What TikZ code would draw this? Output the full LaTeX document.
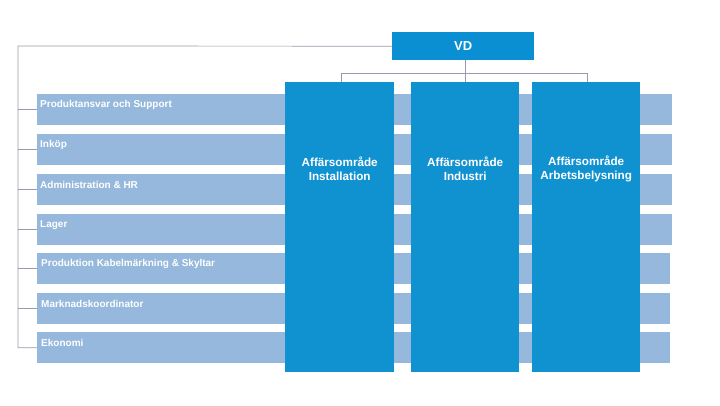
\documentclass[tikz,border=0pt]{standalone}
\usepackage{fontspec}
\setmainfont{Liberation Sans}
\begin{document}
\begin{tikzpicture}[x=1pt,y=-1pt,
  rowbox/.style={fill=rowblue,draw=none,inner sep=0pt,anchor=north west},
  colbox/.style={fill=colblue,draw=none,inner sep=0pt,anchor=north west,minimum width=109pt,minimum height=290pt},
  rowtxt/.style={text=white,font=\fontsize{10}{12}\selectfont\bfseries,anchor=west,inner sep=0pt},
  coltxt/.style={text=white,font=\fontsize{11.7}{14}\selectfont\bfseries,align=center,inner sep=0pt},
  link/.style={draw=linegrey,line width=0.7pt}]
\definecolor{rowblue}{HTML}{95B8DC}
\definecolor{colblue}{HTML}{1192D0}
\definecolor{vdblue}{HTML}{0A8FD2}
\definecolor{linegrey}{HTML}{9A9AAE}
\useasboundingbox (0,0) rectangle (720,405);
% rows
\foreach \i/\t/\w in {1/94/635,2/134/635,3/174/635,4/214/635,5/253/633,6/293/633,7/332/633}{
  \node[rowbox,minimum width=\w pt,minimum height=31pt] (r\i) at (37,\t) {};
}
% VD
\node[fill=vdblue,inner sep=0pt,minimum width=142pt,minimum height=28pt,anchor=north west] (vd) at (392,32) {};
\node[text=white,font=\fontsize{13}{15}\selectfont\bfseries] (vdt) at (vd.center) {VD};
% columns
\node[colbox] (c1) at (285,82) {};
\node[colbox,minimum width=108pt] (c2) at (411,82) {};
\node[colbox,minimum width=108pt] (c3) at (532,82) {};
\node[coltxt] (t1) at ([yshift=-87pt]c1.north) {Affärsområde\\Installation};
\node[coltxt] (t2) at ([yshift=-87pt]c2.north) {Affärsområde\\Industri};
\node[coltxt] (t3) at ([yshift=-87pt]c3.north) {Affärsområde\\Arbetsbelysning};
% connectors top
\coordinate (vdb) at ([xshift=2pt]vd.south);
\coordinate (bus) at ([yshift=-13pt]vdb);
\draw[link] (vdb) -- (bus);
\draw[link] (c1.north -| 341,0) |- (bus) -| (c3.north -| 587,0);
\draw[link] (bus) -- (c2.north -| bus);
% left spine
\coordinate (spine) at (18,46);
\draw[link] (vd.west) -- (spine) |- (r7.west);
\foreach \i in {1,...,6}{ \draw[link] (r\i.west -| spine) -- (r\i.west); }
% row texts
\node[rowtxt] (l1) at (40,105) {Produktansvar och Support};
\node[rowtxt] (l2) at (40,145) {Inköp};
\node[rowtxt] (l3) at (40,185) {Administration \& HR};
\node[rowtxt] (l4) at (40,225) {Lager};
\node[rowtxt] (l5) at (41,264) {Produktion Kabelmärkning \& Skyltar};
\node[rowtxt] (l6) at (41,304) {Marknadskoordinator};
\node[rowtxt] (l7) at (41,343) {Ekonomi};
\end{tikzpicture}
\end{document}
